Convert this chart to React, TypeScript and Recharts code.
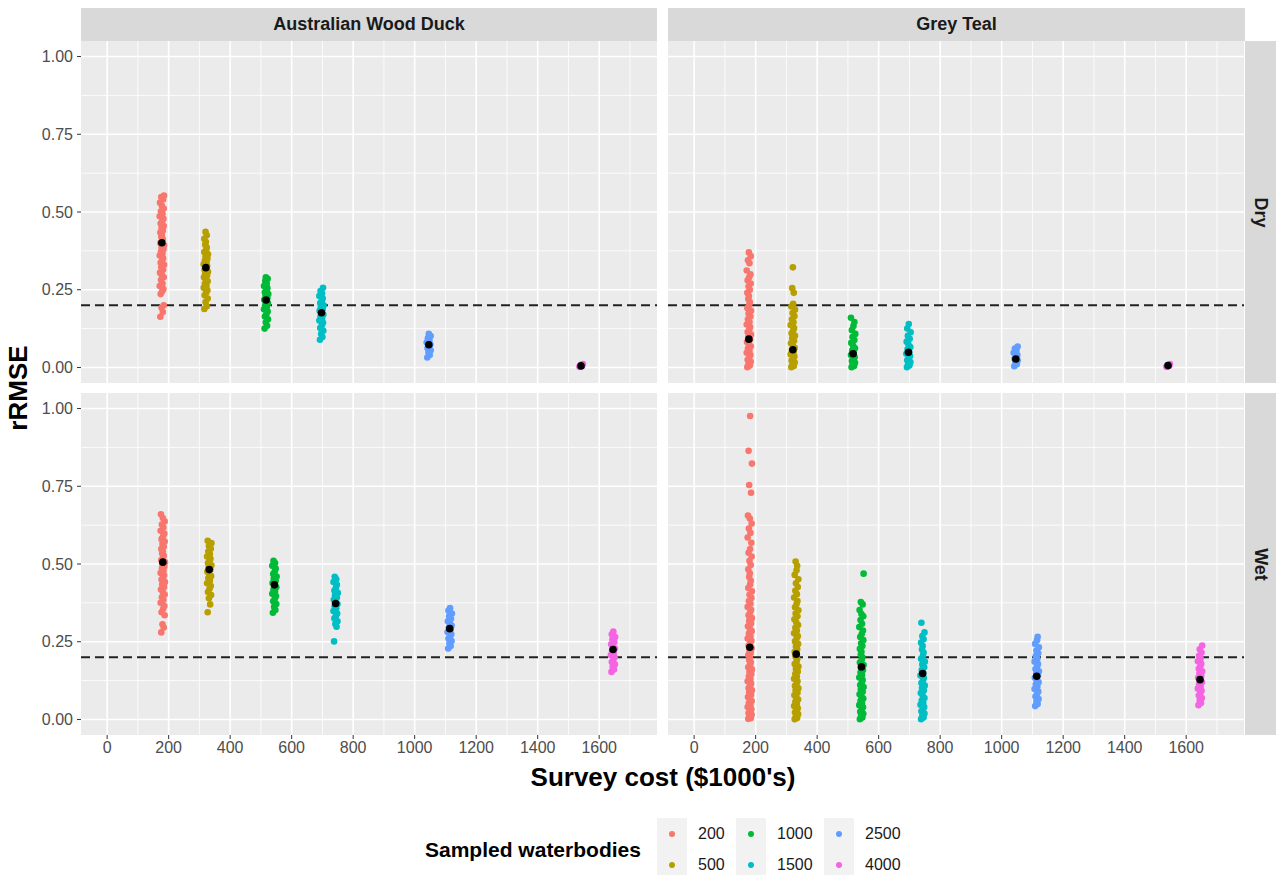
import React from "react";
import { ScatterChart, Scatter, XAxis, YAxis, CartesianGrid, ReferenceLine } from "recharts";

const GROUPS = ["200", "500", "1000", "1500", "2500", "4000"];
const COLORS = ["#F8766D", "#B79F00", "#00BA38", "#00BFC4", "#619CFF", "#F564E3"];

const COST_TICKS = [0, 200, 400, 600, 800, 1000, 1200, 1400, 1600];
const COST_MINOR = [-100, 100, 300, 500, 700, 900, 1100, 1300, 1500, 1700];
const RMSE_TICKS = [0, 0.25, 0.5, 0.75, 1];
const RMSE_MINOR = [0.125, 0.375, 0.625, 0.875];

// survey cost of each sampling level, by season
const DRY_COST = [178, 321, 517, 697, 1046, 1541];
const WET_COST = [181, 332, 544, 743, 1114, 1645];

// small horizontal jitter (cost units)
const JITTER = [-5, 3, -1, 6, -4, 1, 5, -7, 2, -3, 6, 0, -6, 4, -2, 7, -4, 1, 4, -7, 2, -3, 5, -1, 7, -5, 1, 3, -2, 0];

// rRMSE of each simulation, Australian Wood Duck, dry
const WD_DRY = [
  [0.163, 0.178, 0.192, 0.2, 0.236, 0.245, 0.252, 0.262, 0.27, 0.281, 0.29, 0.297, 0.305, 0.314, 0.322, 0.33, 0.337, 0.345, 0.351, 0.36, 0.366, 0.372, 0.38, 0.386, 0.393, 0.4, 0.407, 0.413, 0.42, 0.427, 0.434, 0.44, 0.448, 0.455, 0.463, 0.47, 0.478, 0.486, 0.494, 0.502, 0.511, 0.52, 0.53, 0.54, 0.548, 0.553],
  [0.188, 0.197, 0.21, 0.222, 0.232, 0.24, 0.248, 0.256, 0.263, 0.27, 0.277, 0.283, 0.29, 0.296, 0.302, 0.308, 0.314, 0.32, 0.326, 0.332, 0.338, 0.344, 0.35, 0.357, 0.364, 0.371, 0.378, 0.386, 0.395, 0.404, 0.414, 0.425, 0.436],
  [0.125, 0.134, 0.145, 0.155, 0.164, 0.172, 0.18, 0.187, 0.194, 0.2, 0.206, 0.212, 0.218, 0.224, 0.23, 0.236, 0.242, 0.248, 0.255, 0.262, 0.27, 0.278, 0.285, 0.29],
  [0.089, 0.098, 0.108, 0.118, 0.127, 0.136, 0.144, 0.151, 0.158, 0.164, 0.17, 0.176, 0.182, 0.188, 0.194, 0.2, 0.207, 0.214, 0.222, 0.23, 0.238, 0.246, 0.256],
  [0.032, 0.04, 0.048, 0.055, 0.062, 0.068, 0.074, 0.08, 0.087, 0.094, 0.101, 0.108],
  [0.002, 0.005, 0.008, 0.011, 0.004, 0.007],
];
const WD_DRY_MEAN = [0.401, 0.321, 0.217, 0.176, 0.073, 0.005];

// Grey Teal, dry
const GT_DRY = [
  [0.001, 0.006, 0.012, 0.018, 0.025, 0.032, 0.04, 0.047, 0.054, 0.061, 0.068, 0.075, 0.082, 0.09, 0.098, 0.106, 0.114, 0.122, 0.13, 0.138, 0.146, 0.155, 0.164, 0.173, 0.182, 0.191, 0.2, 0.21, 0.22, 0.23, 0.24, 0.25, 0.26, 0.27, 0.28, 0.29, 0.3, 0.312, 0.335, 0.345, 0.358, 0.37],
  [0.001, 0.005, 0.01, 0.016, 0.022, 0.028, 0.035, 0.042, 0.049, 0.056, 0.063, 0.07, 0.078, 0.086, 0.094, 0.102, 0.11, 0.118, 0.127, 0.136, 0.145, 0.155, 0.165, 0.175, 0.186, 0.196, 0.205, 0.24, 0.255, 0.322],
  [0.001, 0.005, 0.01, 0.015, 0.021, 0.027, 0.033, 0.04, 0.047, 0.054, 0.062, 0.07, 0.079, 0.088, 0.098, 0.108, 0.12, 0.133, 0.146, 0.16],
  [0.001, 0.006, 0.011, 0.017, 0.023, 0.03, 0.037, 0.044, 0.051, 0.058, 0.066, 0.074, 0.083, 0.092, 0.102, 0.113, 0.125, 0.14],
  [0.004, 0.01, 0.016, 0.022, 0.028, 0.034, 0.04, 0.047, 0.054, 0.061, 0.067],
  [0.002, 0.005, 0.008, 0.011, 0.004, 0.007],
];
const GT_DRY_MEAN = [0.091, 0.057, 0.044, 0.049, 0.027, 0.006];

// Australian Wood Duck, wet
const WD_WET = [
  [0.28, 0.296, 0.306, 0.335, 0.345, 0.355, 0.365, 0.375, 0.384, 0.393, 0.402, 0.41, 0.418, 0.426, 0.434, 0.442, 0.45, 0.457, 0.464, 0.471, 0.478, 0.485, 0.492, 0.499, 0.506, 0.513, 0.52, 0.527, 0.534, 0.541, 0.548, 0.556, 0.564, 0.572, 0.58, 0.589, 0.598, 0.607, 0.617, 0.627, 0.637, 0.648, 0.66],
  [0.345, 0.37, 0.39, 0.4, 0.41, 0.42, 0.429, 0.438, 0.446, 0.454, 0.461, 0.468, 0.475, 0.482, 0.489, 0.496, 0.503, 0.51, 0.517, 0.524, 0.532, 0.54, 0.549, 0.558, 0.567, 0.575],
  [0.343, 0.352, 0.362, 0.371, 0.38, 0.388, 0.396, 0.404, 0.411, 0.418, 0.425, 0.432, 0.439, 0.446, 0.453, 0.46, 0.468, 0.476, 0.485, 0.494, 0.503, 0.51],
  [0.251, 0.298, 0.307, 0.316, 0.325, 0.333, 0.341, 0.349, 0.357, 0.364, 0.371, 0.378, 0.385, 0.392, 0.399, 0.407, 0.415, 0.424, 0.433, 0.442, 0.451, 0.459],
  [0.228, 0.236, 0.244, 0.252, 0.26, 0.267, 0.274, 0.281, 0.288, 0.295, 0.302, 0.309, 0.316, 0.324, 0.332, 0.341, 0.35, 0.358],
  [0.153, 0.161, 0.169, 0.177, 0.185, 0.193, 0.2, 0.207, 0.214, 0.221, 0.228, 0.235, 0.242, 0.249, 0.257, 0.265, 0.274, 0.283],
];
const WD_WET_MEAN = [0.506, 0.482, 0.433, 0.373, 0.292, 0.225];

// Grey Teal, wet
const GT_WET = [
  [0.002, 0.004, 0.009, 0.015, 0.021, 0.026, 0.033, 0.04, 0.046, 0.053, 0.059, 0.066, 0.072, 0.079, 0.087, 0.094, 0.101, 0.108, 0.116, 0.123, 0.131, 0.138, 0.146, 0.153, 0.161, 0.168, 0.176, 0.184, 0.191, 0.199, 0.207, 0.214, 0.222, 0.229, 0.237, 0.245, 0.253, 0.26, 0.268, 0.276, 0.284, 0.292, 0.3, 0.309, 0.317, 0.326, 0.335, 0.344, 0.353, 0.362, 0.372, 0.381, 0.391, 0.401, 0.412, 0.423, 0.434, 0.446, 0.458, 0.47, 0.483, 0.497, 0.51, 0.524, 0.536, 0.548, 0.568, 0.585, 0.6, 0.614, 0.63, 0.646, 0.656, 0.729, 0.754, 0.823, 0.864, 0.976],
  [0.001, 0.005, 0.011, 0.017, 0.023, 0.03, 0.036, 0.043, 0.05, 0.057, 0.064, 0.071, 0.078, 0.086, 0.093, 0.1, 0.108, 0.115, 0.123, 0.131, 0.138, 0.146, 0.154, 0.162, 0.17, 0.178, 0.186, 0.194, 0.202, 0.21, 0.218, 0.226, 0.235, 0.243, 0.251, 0.26, 0.268, 0.277, 0.286, 0.295, 0.304, 0.313, 0.322, 0.332, 0.341, 0.351, 0.361, 0.371, 0.381, 0.392, 0.403, 0.414, 0.426, 0.438, 0.451, 0.465, 0.48, 0.494, 0.508],
  [0.001, 0.006, 0.012, 0.018, 0.025, 0.032, 0.039, 0.046, 0.053, 0.06, 0.067, 0.074, 0.081, 0.089, 0.096, 0.104, 0.111, 0.119, 0.127, 0.135, 0.143, 0.151, 0.159, 0.167, 0.175, 0.183, 0.192, 0.2, 0.209, 0.218, 0.227, 0.236, 0.245, 0.255, 0.265, 0.275, 0.286, 0.297, 0.308, 0.32, 0.332, 0.339, 0.352, 0.37, 0.378, 0.469],
  [0.001, 0.006, 0.012, 0.019, 0.026, 0.033, 0.04, 0.047, 0.054, 0.061, 0.069, 0.077, 0.085, 0.093, 0.101, 0.109, 0.117, 0.125, 0.133, 0.141, 0.15, 0.159, 0.168, 0.177, 0.186, 0.195, 0.205, 0.215, 0.225, 0.236, 0.247, 0.258, 0.268, 0.28, 0.311],
  [0.043, 0.05, 0.058, 0.066, 0.074, 0.082, 0.09, 0.098, 0.106, 0.113, 0.12, 0.127, 0.134, 0.141, 0.148, 0.155, 0.162, 0.17, 0.178, 0.186, 0.195, 0.204, 0.213, 0.222, 0.232, 0.243, 0.255, 0.266],
  [0.046, 0.053, 0.061, 0.069, 0.077, 0.085, 0.092, 0.099, 0.106, 0.113, 0.12, 0.127, 0.134, 0.141, 0.148, 0.155, 0.163, 0.171, 0.179, 0.187, 0.196, 0.205, 0.215, 0.226, 0.238],
];
const GT_WET_MEAN = [0.232, 0.21, 0.169, 0.148, 0.139, 0.128];

const TARGET = 0.2;

const FONT = "'Liberation Sans', Arial, sans-serif";
const PANEL_W = 576;
const PANEL_H = 342;
const Y_AXIS_W = 60;
const X_AXIS_H = 30;

const dot = (color: string, r: number) => (p: any) =>
  p.cx == null ? null : <circle cx={p.cx} cy={p.cy} r={r} fill={color} />;

function Panel({ ys, means, costs, showX, showY }: { ys: number[][]; means: number[]; costs: number[]; showX: boolean; showY: boolean }) {
  const width = PANEL_W + (showY ? Y_AXIS_W : 0);
  const height = PANEL_H + (showX ? X_AXIS_H : 0);
  const groups = ys.map((vals, g) => vals.map((y, i) => ({ x: costs[g] + JITTER[i % JITTER.length], y })));
  const meanPts = means.map((y, g) => ({ x: costs[g], y }));
  return (
    <ScatterChart width={width} height={height} margin={{ top: 0, right: 0, bottom: 0, left: 0 }}>
      <CartesianGrid fill="#EBEBEB" stroke="#FFFFFF" strokeWidth={0.8} horizontalValues={RMSE_MINOR} verticalValues={COST_MINOR} />
      <CartesianGrid stroke="#FFFFFF" strokeWidth={1.6} horizontalValues={RMSE_TICKS} verticalValues={COST_TICKS} />
      <XAxis
        type="number"
        dataKey="x"
        domain={[-85, 1788]}
        ticks={COST_TICKS}
        interval={0}
        allowDataOverflow
        hide={!showX}
        height={X_AXIS_H}
        tickSize={4}
        tickMargin={3}
        axisLine={false}
        tickLine={{ stroke: "#333333" }}
        tick={{ fill: "#4D4D4D", fontSize: 16, fontFamily: FONT }}
      />
      <YAxis
        type="number"
        dataKey="y"
        domain={[-0.05, 1.05]}
        ticks={RMSE_TICKS}
        interval={0}
        allowDataOverflow
        hide={!showY}
        width={Y_AXIS_W}
        tickSize={4}
        tickMargin={4}
        axisLine={false}
        tickLine={{ stroke: "#333333" }}
        tick={{ fill: "#4D4D4D", fontSize: 16, fontFamily: FONT }}
        tickFormatter={(v: number) => v.toFixed(2)}
      />
      {groups.map((pts, g) => (
        <Scatter key={GROUPS[g]} name={GROUPS[g]} data={pts} fill={COLORS[g]} shape={dot(COLORS[g], 3.3)} isAnimationActive={false} />
      ))}
      <ReferenceLine y={TARGET} stroke="#222222" strokeWidth={1.8} strokeDasharray="9 5" />
      <Scatter name="mean" data={meanPts} fill="#000000" shape={dot("#000000", 3.8)} isAnimationActive={false} />
    </ScatterChart>
  );
}

const stripStyle: React.CSSProperties = {
  position: "absolute",
  background: "#D9D9D9",
  color: "#1A1A1A",
  fontWeight: 700,
  fontSize: 18,
  display: "flex",
  alignItems: "center",
  justifyContent: "center",
};

const LEGEND_COLS = [657, 736, 824];
const LEGEND_ROWS = [818, 849];

export default function App() {
  return (
    <div style={{ position: "relative", width: 1276, height: 875, background: "#FFFFFF", fontFamily: FONT, overflow: "hidden" }}>
      <style>{"body{margin:0}"}</style>

      {/* column strips */}
      <div style={{ ...stripStyle, left: 81, top: 8, width: PANEL_W, height: 33 }}>Australian Wood Duck</div>
      <div style={{ ...stripStyle, left: 668, top: 8, width: PANEL_W + 1, height: 33 }}>Grey Teal</div>
      {/* row strips */}
      <div style={{ ...stripStyle, left: 1245, top: 41, width: 31, height: PANEL_H }}>
        <span style={{ transform: "rotate(90deg)", whiteSpace: "nowrap" }}>Dry</span>
      </div>
      <div style={{ ...stripStyle, left: 1245, top: 393, width: 31, height: PANEL_H }}>
        <span style={{ transform: "rotate(90deg)", whiteSpace: "nowrap" }}>Wet</span>
      </div>

      <div style={{ position: "absolute", left: 81 - Y_AXIS_W, top: 41 }}>
        <Panel ys={WD_DRY} means={WD_DRY_MEAN} costs={DRY_COST} showX={false} showY={true} />
      </div>
      <div style={{ position: "absolute", left: 668, top: 41 }}>
        <Panel ys={GT_DRY} means={GT_DRY_MEAN} costs={DRY_COST} showX={false} showY={false} />
      </div>
      <div style={{ position: "absolute", left: 81 - Y_AXIS_W, top: 393 }}>
        <Panel ys={WD_WET} means={WD_WET_MEAN} costs={WET_COST} showX={true} showY={true} />
      </div>
      <div style={{ position: "absolute", left: 668, top: 393 }}>
        <Panel ys={GT_WET} means={GT_WET_MEAN} costs={WET_COST} showX={true} showY={false} />
      </div>

      {/* axis titles */}
      <div style={{ position: "absolute", left: 18, top: 388, transform: "translate(-50%, -50%) rotate(-90deg)", fontWeight: 700, fontSize: 26, color: "#000", whiteSpace: "nowrap" }}>
        rRMSE
      </div>
      <div style={{ position: "absolute", left: 663, top: 777, transform: "translate(-50%, -50%)", fontWeight: 700, fontSize: 26, color: "#000", whiteSpace: "nowrap" }}>
        Survey cost ($1000's)
      </div>

      {/* legend */}
      <div style={{ position: "absolute", left: 425, top: 850, transform: "translateY(-50%)", fontWeight: 700, fontSize: 21, color: "#000", whiteSpace: "nowrap" }}>
        Sampled waterbodies
      </div>
      {GROUPS.map((g, i) => {
        const col = Math.floor(i / 2);
        const row = i % 2;
        const left = LEGEND_COLS[col];
        const top = LEGEND_ROWS[row];
        return (
          <React.Fragment key={g}>
            <div style={{ position: "absolute", left, top, width: 30, height: 31, background: "#F2F2F2", display: "flex", alignItems: "center", justifyContent: "center" }}>
              <div style={{ width: 6, height: 6, borderRadius: 3, background: COLORS[i] }} />
            </div>
            <div style={{ position: "absolute", left: left + 41, top: top + 15.5, transform: "translateY(-50%)", fontSize: 16, color: "#1A1A1A", whiteSpace: "nowrap" }}>
              {g}
            </div>
          </React.Fragment>
        );
      })}
    </div>
  );
}
